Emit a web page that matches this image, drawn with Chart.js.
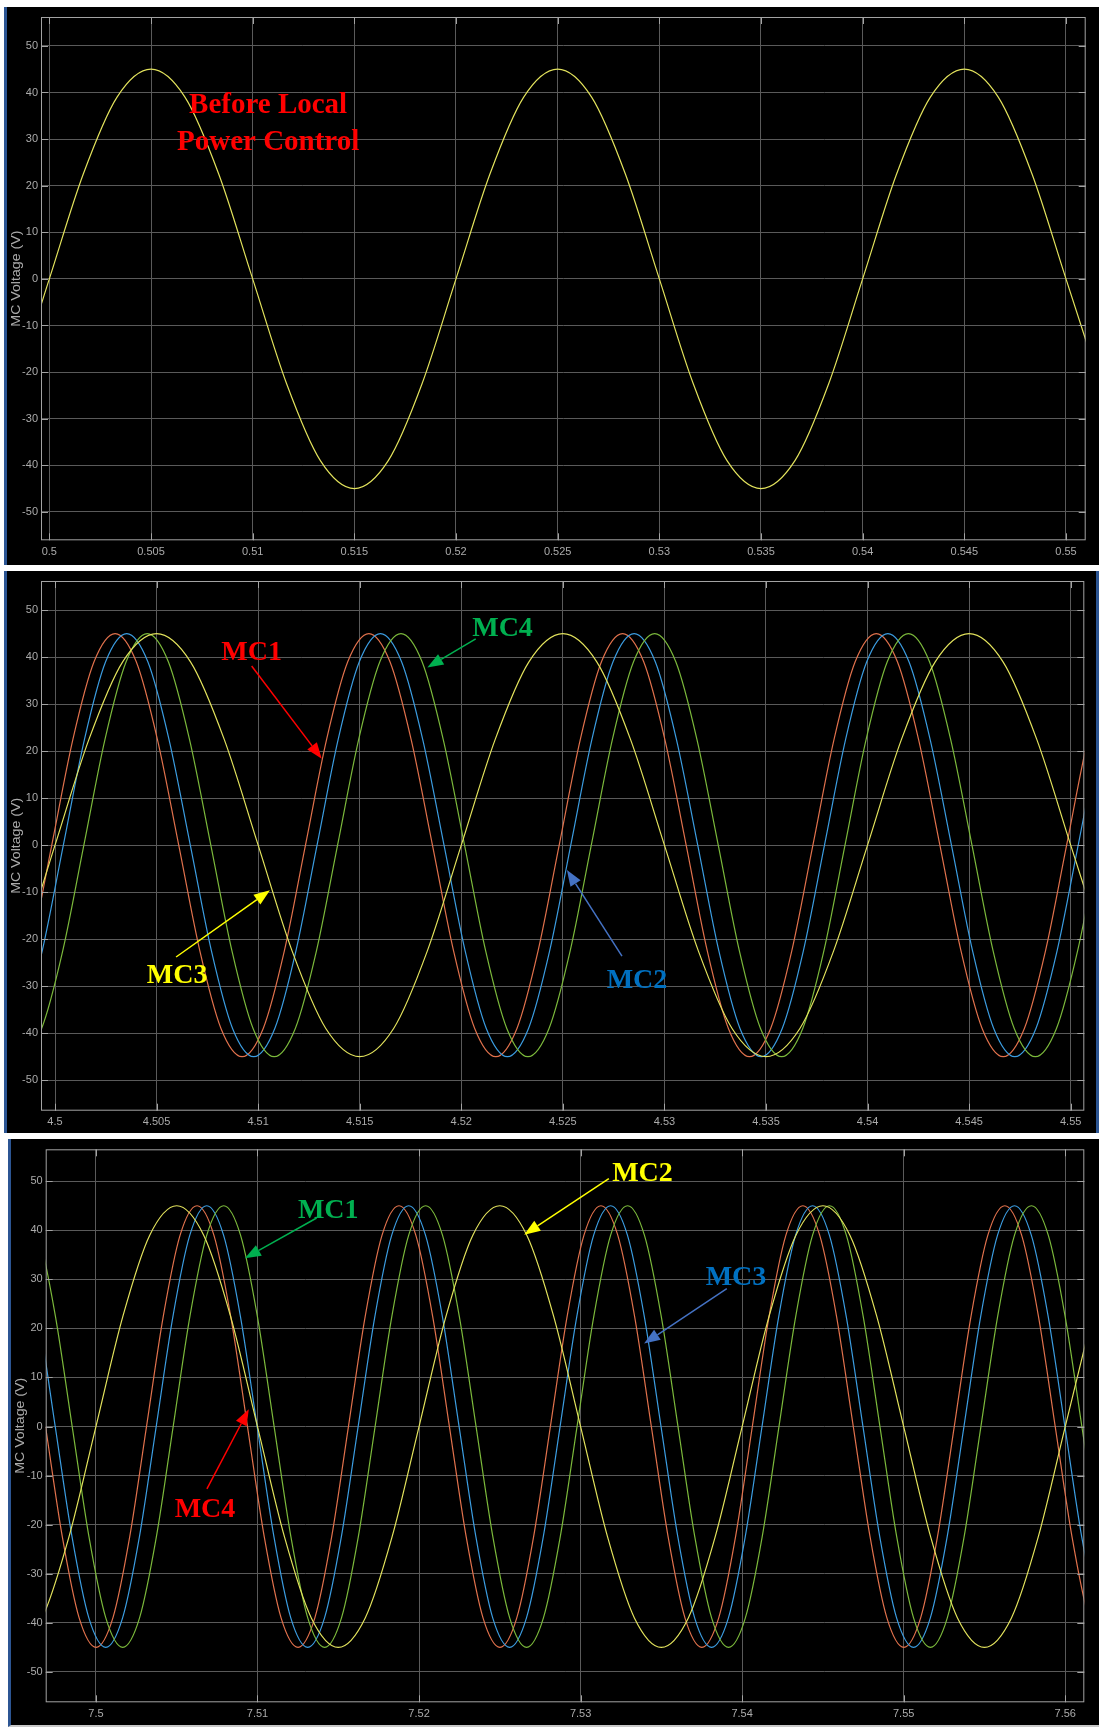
<!DOCTYPE html>
<html>
<head>
<meta charset="utf-8">
<script src="https://cdn.jsdelivr.net/npm/chart.js@4.4.1/dist/chart.umd.min.js"></script>
<style>
html,body{margin:0;padding:0;background:#fff;}
body{width:1099px;height:1727px;position:relative;overflow:hidden;}
.panel{position:absolute;background:#000;box-sizing:border-box;}
.wrap{position:absolute;left:0;width:1099px;}
.wrap canvas{position:absolute;left:0;top:0;}
</style>
</head>
<body>
<div class="panel" style="left:4px;top:7px;width:1095px;height:558px;border-left:3px solid #2c5593;"></div>
<div class="panel" style="left:4px;top:571px;width:1095px;height:562px;border-left:3px solid #2c5593;border-right:3px solid #2c5593;"></div>
<div class="panel" style="left:8px;top:1139px;width:1091px;height:588px;border-left:3px solid #2c5593;border-bottom:2px solid #c8c8c8;"></div>
<div class="wrap" style="top:7px;height:558px;"><canvas id="c1" width="1099" height="558"></canvas></div>
<div class="wrap" style="top:571px;height:562px;"><canvas id="c2" width="1099" height="562"></canvas></div>
<div class="wrap" style="top:1139px;height:588px;"><canvas id="c3" width="1099" height="588"></canvas></div>
<script>
// ---------- tick values ----------
const yTicks = [-50, -40, -30, -20, -10, 0, 10, 20, 30, 40, 50];
const xTicks1 = [0.5, 0.505, 0.51, 0.515, 0.52, 0.525, 0.53, 0.535, 0.54, 0.545, 0.55];
const xTicks2 = [4.5, 4.505, 4.51, 4.515, 4.52, 4.525, 4.53, 4.535, 4.54, 4.545, 4.55];
const xTicks3 = [7.5, 7.51, 7.52, 7.53, 7.54, 7.55, 7.56];

// ---------- panel 1 : before local power control (time s, voltage V) ----------
const p1Time = [0.49667, 0.49833, 0.5, 0.50167, 0.50333, 0.505, 0.50667, 0.50833, 0.51, 0.51167, 0.51333, 0.515, 0.51667, 0.51833, 0.52, 0.52167, 0.52333, 0.525, 0.52667, 0.52833, 0.53, 0.53167, 0.53333, 0.535, 0.53667, 0.53833, 0.54, 0.54167, 0.54333, 0.545, 0.54667, 0.54833, 0.55, 0.55167];
const p1Volt = [-39, -22.5, 0, 22.5, 39, 45, 39, 22.5, 0, -22.5, -39, -45, -39, -22.5, 0, 22.5, 39, 45, 39, 22.5, 0, -22.5, -39, -45, -39, -22.5, 0, 22.5, 39, 45, 39, 22.5, 0, -22.5];

// ---------- panel 2 ----------
const p2MC1Time = [4.49672, 4.49776, 4.49880, 4.49984, 4.50088, 4.50192, 4.50296, 4.50400, 4.50504, 4.50609, 4.50713, 4.50817, 4.50921, 4.51025, 4.51129, 4.51233, 4.51337, 4.51441, 4.51545, 4.51649, 4.51753, 4.51858, 4.51962, 4.52066, 4.52170, 4.52274, 4.52378, 4.52482, 4.52586, 4.52690, 4.52794, 4.52898, 4.53002, 4.53107, 4.53211, 4.53315, 4.53419, 4.53523, 4.53627, 4.53731, 4.53835, 4.53939, 4.54043, 4.54147, 4.54251, 4.54356, 4.54460, 4.54564, 4.54668, 4.54772, 4.54876, 4.54980, 4.55084, 4.55188];
const p2MC1Volt = [-45, -39, -22.5, 0, 22.5, 39, 45, 39, 22.5, 0, -22.5, -39, -45, -39, -22.5, 0, 22.5, 39, 45, 39, 22.5, 0, -22.5, -39, -45, -39, -22.5, 0, 22.5, 39, 45, 39, 22.5, 0, -22.5, -39, -45, -39, -22.5, 0, 22.5, 39, 45, 39, 22.5, 0, -22.5, -39, -45, -39, -22.5, 0, 22.5, 39];
const p2MC2Time = [4.49729, 4.49833, 4.49937, 4.50041, 4.50145, 4.50249, 4.50353, 4.50457, 4.50561, 4.50666, 4.50770, 4.50874, 4.50978, 4.51082, 4.51186, 4.51290, 4.51394, 4.51498, 4.51602, 4.51706, 4.51810, 4.51915, 4.52019, 4.52123, 4.52227, 4.52331, 4.52435, 4.52539, 4.52643, 4.52747, 4.52851, 4.52955, 4.53059, 4.53164, 4.53268, 4.53372, 4.53476, 4.53580, 4.53684, 4.53788, 4.53892, 4.53996, 4.54100, 4.54204, 4.54308, 4.54413, 4.54517, 4.54621, 4.54725, 4.54829, 4.54933, 4.55037, 4.55141, 4.55245];
const p2MC2Volt = [-45, -39, -22.5, 0, 22.5, 39, 45, 39, 22.5, 0, -22.5, -39, -45, -39, -22.5, 0, 22.5, 39, 45, 39, 22.5, 0, -22.5, -39, -45, -39, -22.5, 0, 22.5, 39, 45, 39, 22.5, 0, -22.5, -39, -45, -39, -22.5, 0, 22.5, 39, 45, 39, 22.5, 0, -22.5, -39, -45, -39, -22.5, 0, 22.5, 39];
const p2MC3Time = [4.49667, 4.49833, 4.5, 4.50167, 4.50333, 4.505, 4.50667, 4.50833, 4.51, 4.51167, 4.51333, 4.515, 4.51667, 4.51833, 4.52, 4.52167, 4.52333, 4.525, 4.52667, 4.52833, 4.53, 4.53167, 4.53333, 4.535, 4.53667, 4.53833, 4.54, 4.54167, 4.54333, 4.545, 4.54667, 4.54833, 4.55, 4.55167];
const p2MC3Volt = [-39, -22.5, 0, 22.5, 39, 45, 39, 22.5, 0, -22.5, -39, -45, -39, -22.5, 0, 22.5, 39, 45, 39, 22.5, 0, -22.5, -39, -45, -39, -22.5, 0, 22.5, 39, 45, 39, 22.5, 0, -22.5];
const p2MC4Time = [4.49726, 4.49830, 4.49934, 4.50038, 4.50142, 4.50246, 4.50350, 4.50454, 4.50558, 4.50662, 4.50767, 4.50871, 4.50975, 4.51079, 4.51183, 4.51287, 4.51391, 4.51495, 4.51599, 4.51703, 4.51807, 4.51911, 4.52016, 4.52120, 4.52224, 4.52328, 4.52432, 4.52536, 4.52640, 4.52744, 4.52848, 4.52952, 4.53056, 4.53160, 4.53265, 4.53369, 4.53473, 4.53577, 4.53681, 4.53785, 4.53889, 4.53993, 4.54097, 4.54201, 4.54305, 4.54409, 4.54514, 4.54618, 4.54722, 4.54826, 4.54930, 4.55034, 4.55138];
const p2MC4Volt = [-39, -45, -39, -22.5, 0, 22.5, 39, 45, 39, 22.5, 0, -22.5, -39, -45, -39, -22.5, 0, 22.5, 39, 45, 39, 22.5, 0, -22.5, -39, -45, -39, -22.5, 0, 22.5, 39, 45, 39, 22.5, 0, -22.5, -39, -45, -39, -22.5, 0, 22.5, 39, 45, 39, 22.5, 0, -22.5, -39, -45, -39, -22.5, 0];

// ---------- panel 3 ----------
const p3MC1Time = [7.49540, 7.49645, 7.49749, 7.49853, 7.49957, 7.50061, 7.50166, 7.50270, 7.50374, 7.50478, 7.50582, 7.50686, 7.50791, 7.50895, 7.50999, 7.51103, 7.51207, 7.51311, 7.51416, 7.51520, 7.51624, 7.51728, 7.51832, 7.51936, 7.52041, 7.52145, 7.52249, 7.52353, 7.52457, 7.52561, 7.52666, 7.52770, 7.52874, 7.52978, 7.53082, 7.53186, 7.53291, 7.53395, 7.53499, 7.53603, 7.53707, 7.53811, 7.53916, 7.54020, 7.54124, 7.54228, 7.54332, 7.54436, 7.54541, 7.54645, 7.54749, 7.54853, 7.54957, 7.55061, 7.55166, 7.55270, 7.55374, 7.55478, 7.55582, 7.55686, 7.55791, 7.55895, 7.55999, 7.56103, 7.56207];
const p3MC1Volt = [45, 39, 22.5, 0, -22.5, -39, -45, -39, -22.5, 0, 22.5, 39, 45, 39, 22.5, 0, -22.5, -39, -45, -39, -22.5, 0, 22.5, 39, 45, 39, 22.5, 0, -22.5, -39, -45, -39, -22.5, 0, 22.5, 39, 45, 39, 22.5, 0, -22.5, -39, -45, -39, -22.5, 0, 22.5, 39, 45, 39, 22.5, 0, -22.5, -39, -45, -39, -22.5, 0, 22.5, 39, 45, 39, 22.5, 0, -22.5];
const p3MC2Time = [7.495, 7.49667, 7.49833, 7.5, 7.50167, 7.50333, 7.505, 7.50667, 7.50833, 7.51, 7.51167, 7.51333, 7.515, 7.51667, 7.51833, 7.52, 7.52167, 7.52333, 7.525, 7.52667, 7.52833, 7.53, 7.53167, 7.53333, 7.535, 7.53667, 7.53833, 7.54, 7.54167, 7.54333, 7.545, 7.54667, 7.54833, 7.55, 7.55167, 7.55333, 7.555, 7.55667, 7.55833, 7.56, 7.56167];
const p3MC2Volt = [-45, -39, -22.5, 0, 22.5, 39, 45, 39, 22.5, 0, -22.5, -39, -45, -39, -22.5, 0, 22.5, 39, 45, 39, 22.5, 0, -22.5, -39, -45, -39, -22.5, 0, 22.5, 39, 45, 39, 22.5, 0, -22.5, -39, -45, -39, -22.5, 0, 22.5];
const p3MC3Time = [7.49435, 7.49540, 7.49644, 7.49748, 7.49852, 7.49956, 7.50061, 7.50165, 7.50269, 7.50373, 7.50477, 7.50581, 7.50686, 7.50790, 7.50894, 7.50998, 7.51102, 7.51206, 7.51311, 7.51415, 7.51519, 7.51623, 7.51727, 7.51831, 7.51936, 7.52040, 7.52144, 7.52248, 7.52352, 7.52456, 7.52561, 7.52665, 7.52769, 7.52873, 7.52977, 7.53081, 7.53186, 7.53290, 7.53394, 7.53498, 7.53602, 7.53706, 7.53811, 7.53915, 7.54019, 7.54123, 7.54227, 7.54331, 7.54436, 7.54540, 7.54644, 7.54748, 7.54852, 7.54956, 7.55061, 7.55165, 7.55269, 7.55373, 7.55477, 7.55581, 7.55686, 7.55790, 7.55894, 7.55998, 7.56102, 7.56206];
const p3MC3Volt = [45, 39, 22.5, 0, -22.5, -39, -45, -39, -22.5, 0, 22.5, 39, 45, 39, 22.5, 0, -22.5, -39, -45, -39, -22.5, 0, 22.5, 39, 45, 39, 22.5, 0, -22.5, -39, -45, -39, -22.5, 0, 22.5, 39, 45, 39, 22.5, 0, -22.5, -39, -45, -39, -22.5, 0, 22.5, 39, 45, 39, 22.5, 0, -22.5, -39, -45, -39, -22.5, 0, 22.5, 39, 45, 39, 22.5, 0, -22.5, -39];
const p3MC4Time = [7.49375, 7.49480, 7.49584, 7.49688, 7.49792, 7.49896, 7.50001, 7.50105, 7.50209, 7.50313, 7.50417, 7.50521, 7.50626, 7.50730, 7.50834, 7.50938, 7.51042, 7.51146, 7.51251, 7.51355, 7.51459, 7.51563, 7.51667, 7.51771, 7.51876, 7.51980, 7.52084, 7.52188, 7.52292, 7.52396, 7.52501, 7.52605, 7.52709, 7.52813, 7.52917, 7.53021, 7.53126, 7.53230, 7.53334, 7.53438, 7.53542, 7.53646, 7.53751, 7.53855, 7.53959, 7.54063, 7.54167, 7.54271, 7.54376, 7.54480, 7.54584, 7.54688, 7.54792, 7.54896, 7.55001, 7.55105, 7.55209, 7.55313, 7.55417, 7.55521, 7.55626, 7.55730, 7.55834, 7.55938, 7.56042, 7.56146, 7.56251];
const p3MC4Volt = [45, 39, 22.5, 0, -22.5, -39, -45, -39, -22.5, 0, 22.5, 39, 45, 39, 22.5, 0, -22.5, -39, -45, -39, -22.5, 0, 22.5, 39, 45, 39, 22.5, 0, -22.5, -39, -45, -39, -22.5, 0, 22.5, 39, 45, 39, 22.5, 0, -22.5, -39, -45, -39, -22.5, 0, 22.5, 39, 45, 39, 22.5, 0, -22.5, -39, -45, -39, -22.5, 0, 22.5, 39, 45, 39, 22.5, 0, -22.5, -39, -45];

// ---------- styling ----------
const SANS = '"Liberation Sans", Arial, Helvetica, sans-serif';
const SERIF = '"Liberation Serif", "Times New Roman", serif';
const GRID = '#5a5a5a';
const FRAME = '#a3a3a3';
const TICKC = '#ababab';
const LINE = {yellow: '#e2e25c', red: '#e0714c', blue: '#3b9ce0', green: '#7bb83b'};
const NOTE = {red: '#ff0000', green: '#00b050', yellow: '#ffff00', blueText: '#0070c0', blueArrow: '#4472c4'};

Chart.defaults.font.family = SANS;

function scopePlugin(cfg) {
  return {
    id: 'scope',
    afterDatasetsDraw(chart) {
      const ctx = chart.ctx, a = chart.chartArea, xs = chart.scales.x, ys = chart.scales.y;
      ctx.save();
      ctx.strokeStyle = FRAME; ctx.lineWidth = 1;
      ctx.strokeRect(a.left + 0.5, a.top + 0.5, a.right - a.left - 1, a.bottom - a.top - 1);
      const TL = 7;
      ctx.beginPath();
      ys.ticks.forEach(t => {
        const y = Math.round(ys.getPixelForValue(t.value)) + 0.5;
        ctx.moveTo(a.left, y); ctx.lineTo(a.left + TL, y);
        ctx.moveTo(a.right, y); ctx.lineTo(a.right - TL, y);
      });
      xs.ticks.forEach(t => {
        const x = Math.round(xs.getPixelForValue(t.value)) + 0.5;
        ctx.moveTo(x, a.bottom); ctx.lineTo(x, a.bottom - TL);
        ctx.moveTo(x, a.top); ctx.lineTo(x, a.top + TL);
      });
      ctx.stroke();
      // y-axis title
      ctx.save();
      ctx.translate(cfg.titleX, (a.top + a.bottom) / 2);
      ctx.rotate(-Math.PI / 2);
      ctx.scale(1.18, 1);
      ctx.fillStyle = TICKC;
      ctx.font = '12px ' + SANS;
      ctx.textAlign = 'center'; ctx.textBaseline = 'middle';
      ctx.fillText('MC Voltage (V)', 0, 0);
      ctx.restore();
      // arrows
      (cfg.arrows || []).forEach(ar => {
        const x0 = xs.getPixelForValue(ar.from[0]), y0 = ys.getPixelForValue(ar.from[1]);
        const x1 = xs.getPixelForValue(ar.to[0]), y1 = ys.getPixelForValue(ar.to[1]);
        const ang = Math.atan2(y1 - y0, x1 - x0);
        const HL = 16, HW = 6;
        const bx = x1 - HL * Math.cos(ang), by = y1 - HL * Math.sin(ang);
        ctx.strokeStyle = ar.color; ctx.fillStyle = ar.color; ctx.lineWidth = 1.5;
        ctx.beginPath(); ctx.moveTo(x0, y0); ctx.lineTo(bx, by); ctx.stroke();
        ctx.beginPath();
        ctx.moveTo(x1, y1);
        ctx.lineTo(bx + HW * Math.sin(ang), by - HW * Math.cos(ang));
        ctx.lineTo(bx - HW * Math.sin(ang), by + HW * Math.cos(ang));
        ctx.closePath(); ctx.fill();
      });
      // text notes
      (cfg.notes || []).forEach(n => {
        ctx.fillStyle = n.color;
        ctx.font = 'bold ' + n.size + 'px ' + SERIF;
        ctx.textAlign = 'center'; ctx.textBaseline = 'alphabetic';
        ctx.fillText(n.text, xs.getPixelForValue(n.at[0]), ys.getPixelForValue(n.at[1]));
      });
      ctx.restore();
    }
  };
}

function build(id, cfg) {
  const datasets = cfg.series.map(s => ({
    data: s.t.map((t, i) => ({x: t, y: s.v[i]})),
    borderColor: s.color,
    borderWidth: 1.2,
    pointRadius: 0,
    fill: false,
    cubicInterpolationMode: 'monotone',
    tension: 0.4,
    clip: 0
  }));
  return new Chart(document.getElementById(id), {
    type: 'line',
    data: {datasets},
    options: {
      responsive: false,
      animation: false,
      events: [],
      layout: {padding: {left: 0, top: cfg.pad.top, right: cfg.pad.right, bottom: cfg.pad.bottom}},
      plugins: {legend: {display: false}, tooltip: {enabled: false}, title: {display: false}},
      scales: {
        x: {
          type: 'linear', min: cfg.xMin, max: cfg.xMax,
          afterBuildTicks: s => { s.ticks = cfg.xTicks.map(v => ({value: v})); },
          afterFit: s => { s.height = 22; },
          grid: {color: GRID, lineWidth: 1, drawTicks: false},
          border: {display: false},
          ticks: {color: TICKC, font: {size: 11}, padding: 5, maxRotation: 0, autoSkip: false, callback: v => String(v)}
        },
        y: {
          type: 'linear', min: cfg.yMin, max: cfg.yMax,
          afterBuildTicks: s => { s.ticks = yTicks.map(v => ({value: v})); },
          afterFit: s => { s.width = cfg.yWidth; },
          grid: {color: GRID, lineWidth: 1, drawTicks: false},
          border: {display: false},
          ticks: {color: TICKC, font: {size: 11}, padding: 3, autoSkip: false, callback: v => String(v)}
        }
      }
    },
    plugins: [scopePlugin(cfg)]
  });
}

// Panel 1
build('c1', {
  xMin: 0.49959, xMax: 0.55097, yMin: -56.1, yMax: 56.2, xTicks: xTicks1,
  pad: {top: 10, right: 13.3, bottom: 2.7}, yWidth: 41, titleX: 17,
  series: [{t: p1Time, v: p1Volt, color: LINE.yellow}],
  notes: [
    {text: 'Before Local', at: [0.51076, 35.6], color: NOTE.red, size: 29},
    {text: 'Power Control', at: [0.51076, 27.7], color: NOTE.red, size: 29}
  ]
});

// Panel 2
build('c2', {
  xMin: 4.49931, xMax: 4.55067, yMin: -56.5, yMax: 56.2, xTicks: xTicks2,
  pad: {top: 10, right: 14.7, bottom: 0.3}, yWidth: 41, titleX: 17,
  series: [
    {t: p2MC3Time, v: p2MC3Volt, color: LINE.yellow},
    {t: p2MC4Time, v: p2MC4Volt, color: LINE.green},
    {t: p2MC2Time, v: p2MC2Volt, color: LINE.blue},
    {t: p2MC1Time, v: p2MC1Volt, color: LINE.red}
  ],
  arrows: [
    {from: [4.50968, 38.1], to: [4.51313, 18.4], color: NOTE.red},
    {from: [4.52071, 43.9], to: [4.51833, 37.8], color: NOTE.green},
    {from: [4.50596, -23.8], to: [4.51058, -9.6], color: NOTE.yellow},
    {from: [4.52791, -23.6], to: [4.5252, -5.3], color: NOTE.blueArrow}
  ],
  notes: [
    {text: 'MC1', at: [4.50968, 39.4], color: NOTE.red, size: 28},
    {text: 'MC4', at: [4.52203, 44.5], color: NOTE.green, size: 28},
    {text: 'MC3', at: [4.50601, -29.4], color: NOTE.yellow, size: 28},
    {text: 'MC2', at: [4.52865, -30.4], color: NOTE.blueText, size: 28}
  ]
});

// Panel 3
build('c3', {
  xMin: 7.49689, xMax: 7.56118, yMin: -56.2, yMax: 56.5, xTicks: xTicks3,
  pad: {top: 10.3, right: 14.7, bottom: 2.7}, yWidth: 45.7, titleX: 21,
  series: [
    {t: p3MC2Time, v: p3MC2Volt, color: LINE.yellow},
    {t: p3MC1Time, v: p3MC1Volt, color: LINE.green},
    {t: p3MC3Time, v: p3MC3Volt, color: LINE.blue},
    {t: p3MC4Time, v: p3MC4Volt, color: LINE.red}
  ],
  arrows: [
    {from: [7.51366, 42.5], to: [7.50922, 34.3], color: NOTE.green},
    {from: [7.53175, 50.5], to: [7.52651, 39.1], color: NOTE.yellow},
    {from: [7.53905, 28.1], to: [7.53393, 16.9], color: NOTE.blueArrow},
    {from: [7.50687, -12.7], to: [7.50946, 3.5], color: NOTE.red}
  ],
  notes: [
    {text: 'MC1', at: [7.51438, 42.4], color: NOTE.green, size: 28},
    {text: 'MC2', at: [7.53383, 50.0], color: NOTE.yellow, size: 28},
    {text: 'MC3', at: [7.53962, 28.8], color: NOTE.blueText, size: 28},
    {text: 'MC4', at: [7.50675, -18.4], color: NOTE.red, size: 28}
  ]
});
</script>
</body>
</html>
